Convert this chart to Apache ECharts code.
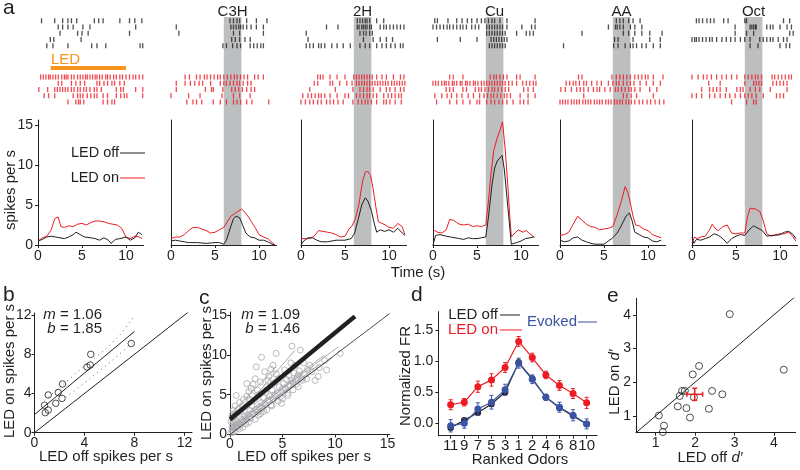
<!DOCTYPE html>
<html><head><meta charset="utf-8">
<script src="https://cdn.jsdelivr.net/npm/echarts@6/dist/echarts.min.js"></script>
<style>html,body{margin:0;padding:0;background:#fff}#c{width:800px;height:470px}</style>
</head><body><div id="c"></div>
<script>
// ---------------- DATA ----------------
const odorNames = ['', 'C3H', '2H', 'Cu', 'AA', 'Oct'];
const odorWindow = [6, 8];
const ledWindow = [1.45, 10];
const timeTicks = [0, 5, 10];
const rateTicks = [0, 5, 10, 15];

// spike rasters (s), 5 trials each
const offSpikes0 = [[0.4,1.9,2.8,3.4,3.8,4.4,6.4,6.9,7.4,9.3,10.4,11.0,11.8],[2.3,2.8,3.4,4.0,5.1,5.9,11.1],[2.5,4.5,5.0,5.7,10.4],[1.4,1.8,4.9],[1.0,1.7,3.4,6.1,6.7,7.7,11.6,11.9]];
const onSpikes0 = [[0.3,0.6,0.9,1.2,1.4,1.7,2.0,2.3,2.7,3.0,3.2,3.4,3.8,4.1,4.5,4.8,5.1,5.4,5.6,5.9,6.2,6.5,6.7,7.0,7.3,7.7,7.9,8.2,8.6,8.9,9.3,9.6,10.0,10.4,10.8,11.1,11.5,11.9],[2.3,2.7,3.8,4.3,4.8,5.3,6.7,7.0,7.5,7.9,8.4,8.7,9.3,9.8],[0.1,1.1,1.9,2.2,2.5,2.8,3.1,3.4,3.8,4.1,4.5,4.8,5.2,5.5,5.9,6.4,6.7,7.2,8.9,9.4,9.7,11.1,11.9],[0.7,1.2,1.9,4.0,4.5,4.8,5.1,5.6,6.0,6.4,6.7,7.4,7.9,8.9,9.4,9.8,10.1,11.9],[3.4,4.3,4.6,4.8,5.2,7.4,7.9,8.4,8.7]];
const offSpikes1 = [[6.7,7.1,7.5,7.8,8.6,9.7,10.9],[0.6,6.8,7.1,7.4,7.7,7.9,8.2,8.6,9.1,9.7,10.5],[0.9,7.1,7.8,10.5],[6.9,7.3,7.8,8.4,9.0],[5.9,6.3,7.0,7.5,7.9,9.0,9.4,9.8,10.2,10.5]];
const onSpikes1 = [[1.6,2.1,2.9,3.3,3.8,4.1,4.5,4.9,5.3,5.6,6.0,6.4,6.8,7.2,7.5,7.9,8.3,8.7,9.5,9.9,10.5],[0.6,1.6,2.2,2.7,3.2,3.6,4.5,5.6,6.0,6.3,6.7,7.1,7.5,7.8,8.2,8.7,9.1],[0.6,3.9,4.6,4.8,5.9,6.9,7.3,7.7,8.1,8.6,9.1,9.5],[0.0,2.0,3.3,5.8,7.1,7.8,9.0],[1.8,2.5,2.9,3.5,4.8,5.6,6.3,7.1,7.5,7.9,8.6,9.2,11.1]];
const offSpikes2 = [[6.4,6.7,7.0,7.3,7.5,7.8,8.6,9.4],[2.9,4.2,6.4,6.6,6.9,7.1,7.3,7.5,7.8,8.0,9.0,9.4,9.7,10.1,10.5,10.9,11.3,11.7],[0.6,6.7,7.1,7.4,7.8,8.1],[0.8,7.1,8.2,9.0,9.7,10.4],[0.6,1.0,1.4,2.0,2.3,2.7,3.5,4.1,4.8,5.6,6.7,7.3,7.8,8.6,9.2,9.7,10.2,10.7,11.3,11.6]];
const onSpikes2 = [[1.9,2.2,2.5,3.3,4.1,5.0,6.0,6.3,6.6,6.9,7.2,7.5,7.8,8.1,8.6,9.2,9.7,10.5,11.3,11.7],[1.5,1.9,3.3,3.6,4.4,5.2,5.8,6.3,6.6,6.9,7.2,7.5,7.8,8.1,8.4,8.7,9.0,9.3,9.6,9.9,10.3,10.6,10.9,11.2,11.5,11.8],[1.0,3.9,5.9,6.7,7.1,7.5,7.8,8.2,9.0,9.7,10.1,10.7,11.3,11.7],[0.2,0.8,1.2,1.6,2.0,2.3,2.7,3.3,4.1,5.0,5.4,6.3,6.7,7.1,7.5,7.8,8.2,8.6,9.4,9.9,10.3,10.7,11.1,11.4],[0.0,0.5,1.0,1.4,1.9,2.3,2.9,3.3,3.7,4.2,4.8,5.9,6.5,6.9,7.3,7.6,8.0,8.6,9.4,9.7,10.1,10.7,11.4]];
const offSpikes3 = [[0.2,0.5,1.7,2.7,3.3,3.9,4.4,5.0,5.5,5.9,6.3,6.7,7.0,7.6,8.4,11.6],[0.0,0.4,0.8,1.2,1.6,1.9,2.3,2.7,3.1,3.4,3.8,4.4,4.8,5.2,6.1,6.4,6.7,7.0,7.3,7.6,7.9,8.4,10.1,11.2,11.6],[6.1,6.4,6.7,7.0,7.3,7.6,7.9,8.2,9.5,10.6,11.0,11.4],[0.5,3.1,5.0,6.6,6.9,7.2,7.5,7.8,8.1,8.4],[6.4,6.7,7.0,7.3,7.6,7.9,8.2]];
const onSpikes3 = [[1.9,2.3,3.4,6.5,6.9,7.2,7.6,8.0,8.4,9.5,9.9,11.6],[0.0,0.3,0.6,1.0,1.3,1.5,1.8,2.2,2.4,2.7,3.1,3.3,3.7,3.9,4.2,4.6,4.8,5.1,5.5,5.8,6.1,6.4,6.7,7.0,7.3,7.6,7.9,8.2,8.6,9.0,9.5,10.2,10.6,11.0,11.4,11.7],[1.5,1.9,2.3,3.4,3.8,4.8,5.2,5.5,5.9,6.3,6.7,7.0,7.4,7.8,8.2,8.6,10.3,10.8,11.4],[0.2,1.0,1.6,2.1,2.7,3.3,4.0,4.6,5.3,5.8,6.2,6.6,6.9,7.3,7.7,8.1,8.4,8.8,9.9,10.8,11.6],[0.4,1.9,2.7,3.4,4.2,5.0,5.3,6.1,6.6,7.0,7.5,7.9,8.4,9.1,9.9,10.3,10.8]];
const offSpikes4 = [[6.4,6.8,7.2,7.8,8.3,9.1],[5.5,6.3,6.5,6.8,7.2,8.0,8.5,9.3],[2.5,7.2,7.8,8.5,9.3,10.2,11.6],[6.2,6.6,8.3,10.2,11.4],[0.4,6.1,6.6,7.4,8.0,8.3,8.7,9.3,9.8,10.6,11.4]];
const onSpikes4 = [[2.1,2.5,5.9,6.4,6.8,7.2,7.6,8.0,8.5,8.9,9.3,9.7,10.0,10.6,11.7],[0.7,1.1,1.5,1.8,2.2,2.7,3.0,3.6,4.2,4.7,5.5,6.0,6.4,6.7,7.2,7.6,8.0,8.4,9.1,9.8,10.6,11.4],[0.1,0.6,1.3,1.9,2.3,2.7,3.2,3.8,4.2,4.5,5.1,5.7,6.3,6.6,7.0,7.4,7.8,8.1,8.5,9.1,10.2,11.0],[2.7,7.2,7.6,8.1,8.7,10.6],[0.0,0.3,0.6,0.9,1.3,1.6,1.9,2.2,2.6,2.9,3.2,3.5,3.9,4.2,4.5,4.8,5.2,5.5,5.8,6.2,6.5,6.8,7.1,7.5,7.8,8.1,8.5,9.0,9.4,9.9,10.3,10.8,11.3,11.8]];
const offSpikes5 = [[0.5,0.8,1.2,1.7,2.1,2.5,3.6,4.1,6.0,6.2,10.4,11.1],[4.9,6.6,6.8,7.0,7.2,7.3,8.5,8.9,9.2,10.0,10.8,11.3],[4.9,6.2,7.0,11.1,11.5],[0.0,0.3,0.5,0.8,1.2,1.6,2.0,2.3,2.8,3.4,3.9,4.4,4.9,5.5,6.0,6.6,7.7,8.1,8.5,8.9,9.2,9.8,10.4,10.8],[6.6,7.5,10.0,10.7,11.1]];
const onSpikes5 = [[0.0,0.7,1.3,1.7,2.2,2.8,3.4,3.9,4.5,5.1,6.0,6.4,6.8,7.2,7.5,7.9,9.1,9.4,9.8,10.2,10.6,11.0,11.3],[1.9,3.2,6.0,7.0,7.3,7.6,7.9,9.2,9.6,10.0,10.4,10.8],[1.1,2.0,2.4,2.8,3.2,3.9,5.1,5.5,5.8,6.6,7.2,7.7,8.9,10.8],[0.0,0.5,1.1,2.0,2.6,3.2,3.8,4.3,4.9,5.5,6.0,6.4,6.8,7.3,8.1,9.6,10.0,10.4],[4.5,6.2,7.0,7.3]];

// firing rate curves [time s, spikes/s]
const psthOff0 = [[0,0.5],[0.5,0.7],[1,1.0],[1.5,1.1],[2,1.0],[2.5,0.9],[3,0.8],[3.5,1.0],[4,1.3],[4.3,1.6],[4.8,1.3],[5.3,1.0],[6,0.9],[6.5,0.8],[7,0.6],[7.5,0.9],[8,0.6],[8.3,0.2],[8.8,0.7],[9.3,0.8],[10,1.0],[10.5,0.6],[11,0.9],[11.4,1.6],[11.8,1.3]];
const psthOn0 = [[0,0.5],[0.5,0.9],[1,1.1],[1.5,1.9],[1.9,3.3],[2.3,3.5],[2.6,2.3],[3,2.2],[3.5,2.4],[4,2.3],[4.5,2.6],[5,2.7],[5.5,2.5],[6,2.8],[6.5,3.0],[7,3.0],[7.5,2.9],[8,2.7],[8.5,2.6],[9,2.5],[9.5,2.1],[10,1.0],[10.5,0.8],[11,1.1],[11.5,1.0],[11.8,0.8]];
const psthOff1 = [[0,0.5],[0.5,0.6],[1,0.5],[1.5,0.4],[2,0.3],[3,0.3],[4,0.2],[5,0.3],[5.5,0.3],[6,0.1],[6.3,0.6],[6.7,2.0],[7.1,3.3],[7.4,3.6],[7.8,3.4],[8.1,2.6],[8.5,1.5],[9,1.0],[9.5,0.9],[10,0.6],[10.5,0.6],[11,0.4],[11.5,0.1],[11.8,0]];
const psthOn1 = [[0,0.8],[0.5,1.0],[1,1.0],[1.5,1.3],[2,1.8],[2.5,2.2],[3,2.2],[3.5,2.0],[4,1.8],[4.5,1.5],[5,1.6],[5.5,1.9],[6,2.2],[6.4,2.9],[6.8,3.6],[7.2,3.9],[7.6,4.2],[8,4.5],[8.4,4.1],[8.8,3.5],[9.2,2.8],[9.6,2.1],[10,1.3],[10.5,1.0],[11,0.8],[11.5,0.3],[11.8,0]];
const psthOff2 = [[0,0],[0.3,0.5],[0.8,0.9],[1.3,0.9],[1.8,0.6],[2.3,0.4],[3,0.4],[4,0.6],[5,0.6],[5.7,0.8],[6.1,1.5],[6.5,3.2],[6.9,5.0],[7.3,5.9],[7.6,5.5],[8,4.3],[8.3,2.8],[8.6,1.6],[9,1.9],[9.5,1.7],[10,1.9],[10.5,1.6],[11,2.1],[11.5,1.5],[11.8,1.2]];
const psthOn2 = [[0,0.8],[0.5,0.8],[1,0.8],[1.5,1.1],[2,1.8],[2.5,1.7],[3,1.6],[3.5,1.5],[4,1.3],[4.5,1.0],[5,1.1],[5.4,1.9],[5.8,2.4],[6.2,3.3],[6.6,5.2],[7,8.0],[7.3,9.1],[7.6,9.2],[7.9,8.7],[8.2,7.0],[8.5,4.8],[8.8,2.9],[9.2,2.7],[9.6,2.5],[10,2.2],[10.5,2.1],[11,2.7],[11.5,2.3],[11.8,1.3]];
const psthOff3 = [[0,0],[0.3,1.2],[0.8,1.3],[1.5,1.1],[2,1.0],[2.5,0.9],[3,0.8],[3.5,0.7],[4,0.9],[4.5,0.8],[5,0.8],[5.5,0.9],[6,1.0],[6.3,3.5],[6.7,7.5],[7.0,9.6],[7.3,10.5],[7.85,11.2],[8.1,9.5],[8.4,6.0],[8.7,2.5],[8.9,0.1],[9.5,0.3],[10,0.5],[10.5,0.8],[11,0.9],[11.5,1.0]];
const psthOn3 = [[0,1.9],[0.5,1.6],[1,1.5],[1.5,1.9],[1.9,3.2],[2.3,3.1],[2.7,2.8],[3,2.6],[3.5,2.5],[4,2.6],[4.5,2.3],[5,2.4],[5.5,2.3],[6,2.5],[6.3,5.5],[6.6,9.0],[6.9,11.8],[7.3,13.4],[7.6,14.3],[7.9,15.4],[8.2,12.0],[8.5,7.5],[8.7,4.0],[8.9,1.0],[9.3,1.5],[9.7,1.9],[10.2,1.6],[10.6,1.8],[11,1.4],[11.5,1.0]];
const psthOff4 = [[0,0.6],[0.5,0.4],[1,0.5],[1.5,0.9],[2,1.0],[2.5,0.6],[3,0.4],[3.5,0.2],[4,0.1],[5,0.1],[5.5,0.5],[6,0.9],[6.5,1.5],[7,2.5],[7.5,3.6],[7.9,4.0],[8.2,3.0],[8.5,1.6],[9,1.3],[9.5,1.0],[10,0.9],[10.5,0.5],[11,0.4],[11.5,0.6]];
const psthOn4 = [[0,1.2],[0.5,1.3],[1,1.6],[1.5,2.6],[2,3.6],[2.5,3.1],[3,2.6],[3.5,2.3],[4,2.2],[4.5,1.9],[5,2.0],[5.5,2.1],[6,2.3],[6.5,3.8],[7,5.6],[7.4,7.3],[7.7,6.6],[8,5.2],[8.3,3.6],[8.6,2.5],[9,2.4],[9.5,2.0],[10,1.8],[10.5,1.3],[11,1.1],[11.5,0.9]];
const psthOff5 = [[0,1.0],[0.2,0.2],[0.5,0.7],[1,0.6],[1.5,0.8],[2,1.0],[2.5,1.4],[3,1.2],[3.5,0.8],[4,0.2],[4.5,0.8],[5,1.1],[5.5,1.3],[6,1.2],[6.5,1.9],[7,2.4],[7.5,2.1],[8,1.8],[8.5,1.1],[9,1.2],[9.5,1.2],[10,1.3],[10.5,1.6],[11,1.7],[11.5,1.3],[11.8,0.8]];
const psthOn5 = [[0,0.3],[0.3,1.0],[0.6,0.8],[1,1.0],[1.5,1.1],[2,1.9],[2.3,2.6],[2.7,2.0],[3,1.8],[3.5,2.3],[4,2.5],[4.5,1.5],[5,1.4],[5.5,1.5],[6,1.5],[6.3,3.5],[6.6,4.6],[7.2,4.5],[7.7,4.2],[8.1,3.0],[8.5,1.4],[9,1.1],[9.5,1.3],[10,1.4],[10.5,1.4],[11,1.6],[11.5,1.0],[11.8,0.5]];

// panel b
const bOff = [0.8,0.86,1.1,1.1,1.7,1.9,2.2,2.24,4.2,4.46,4.5,7.74];
const bOn  = [2.8,2.04,2.3,3.85,3.0,4.1,3.5,4.97,6.7,6.9,8.0,9.1];
const bFit = [[0,1.85],[8,10.33]];
const bUpper = [[0.8,3.3],[2,4.6],[3,5.7],[4,6.8],[5,7.8],[6,8.9],[7,10.2],[8,11.9]];
const bLower = [[2.5,3.6],[3.5,4.6],[4.5,5.6],[5.5,6.6],[6.5,7.7],[7.5,8.8],[8,9.3]];
const bTicks = [0,4,8,12];

// panel c
const cPoints = [[0.1,0.2],[0.2,0.5],[0.3,0.3],[0.4,0.8],[0.5,0.4],[0.6,1.1],[0.2,1.0],[0.3,1.5],[0.5,1.8],[0.7,0.9],[0.8,1.4],[0.9,0.7],[1.0,1.2],[1.1,1.9],[1.2,0.9],[1.3,1.6],[1.4,2.3],[0.4,2.2],[0.6,2.6],[0.3,3.0],[0.8,3.2],[0.5,3.6],[1.0,2.8],[1.2,3.5],[1.5,1.3],[0.1,1.6],[0.9,4.0],[0.6,4.9],[1.3,4.4],[0.2,2.5],
 [1.6,1.8],[1.7,2.5],[1.8,1.5],[1.9,3.0],[2.0,2.1],[2.1,3.6],[2.2,2.6],[2.3,4.2],[2.4,1.9],[2.5,3.2],[2.6,2.8],[2.7,5.0],[2.8,3.4],[2.9,2.6],[3.0,4.0],[1.6,4.8],[1.6,6.4],[1.8,5.4],[2.0,5.8],[2.2,6.3],[2.5,8.5],[2.4,7.0],[2.6,5.6],[2.9,6.6],[3.0,9.7],[2.7,2.4],[1.9,4.4],[2.1,4.9],
 [3.1,3.3],[3.2,4.6],[3.3,3.8],[3.4,5.3],[3.5,3.1],[3.5,6.0],[3.6,4.3],[3.7,7.3],[3.8,4.8],[3.9,3.7],[4.0,5.6],[4.1,8.7],[4.1,4.4],[4.2,6.5],[4.3,4.9],[4.4,10.2],[4.4,7.6],[4.5,5.2],[4.6,4.2],[4.7,6.0],[4.8,4.7],[4.9,3.9],[5.0,5.8],[3.3,7.9],[3.6,6.8],[3.9,8.2],[4.6,7.0],[3.2,2.9],[4.0,3.6],
 [5.1,6.4],[5.2,8.1],[5.3,5.7],[5.4,6.9],[5.5,5.2],[5.6,7.4],[5.7,6.1],[5.8,6.8],[5.9,11.1],[6.0,6.5],[6.1,7.7],[6.2,8.7],[6.3,6.3],[6.4,7.2],[6.5,6.0],[6.6,8.0],[6.7,10.6],[6.8,7.0],[6.9,6.8],[5.0,4.5],[5.5,4.9],[6.0,5.6],[6.5,7.5],[5.8,9.0],
 [7.1,7.6],[7.3,7.0],[7.6,8.7],[7.8,7.9],[8.1,6.8],[8.4,7.3],[8.5,8.4],[9.2,8.1],[9.0,9.3],[10.5,10.2],[7.4,8.2],[7.0,9.0]];
const cCellFits = [[[0,1.2],[6.2,10.6]],[[0,0.8],[10.3,11.0]],[[0,0.5],[9.7,9.6]],[[0,1.5],[7.0,9.2]],[[0,0.3],[8.5,8.8]],[[0,2.5],[4.4,8.5]],[[0,0.6],[6.8,7.6]],[[0,1.0],[9.0,10.0]]];
const cFit = [[0,1.9],[11.9,14.85]];
const cTicks = [0,5,10,15];

// panel d
const odorRank = ['11','9','7','5','3','1','2','4','6','8','10'];
const dOff     = [-0.07,0.05,0.17,0.31,0.50,0.98,0.72,0.42,0.25,0.12,-0.01];
const dOn      = [0.30,0.34,0.59,0.70,0.90,1.32,1.06,0.78,0.61,0.48,0.33];
const dEvoked  = [-0.04,0.00,0.23,0.34,0.54,0.97,0.71,0.42,0.26,0.13,-0.01];
const dOnErr   = [0.08,0.06,0.09,0.10,0.08,0.08,0.07,0.06,0.08,0.08,0.09];
const dEvErr   = [0.10,0.08,0.10,0.11,0.09,0.08,0.07,0.05,0.08,0.09,0.08];
const dOffErr  = [0.03,0.03,0.03,0.04,0.03,0.04,0.04,0.03,0.04,0.03,0.03];
const dYTicks  = [0,0.5,1.0,1.5];

// panel e
const eOff = [2.88,4.25,2.1,1.94,1.67,1.74,1.61,2.43,2.69,1.97,1.56,1.78,2.35,1.87,1.08,1.21,1.18];
const eOn  = [4.02,2.37,2.48,2.23,1.74,1.74,1.59,1.74,1.64,1.55,1.28,1.23,1.21,0.95,1.01,0.71,0.52];
const eMean = [[1.99,1.64,0.2,0.18]];
const eTicks = [1,2,3,4];

// ---------------- STYLE / LAYOUT ----------------
const FONT = '"Liberation Sans", Arial, Helvetica, sans-serif';
const INK = '#231f20', RED = '#ed1c24', BLUE = '#3a53a4', BAND = '#bcbec0', CGRAY = '#a7a9ac', ORANGE = '#f7941d';
const colX = [38,171,301,433,560,692];
const colW = 105.6;
const offSpikes = [offSpikes0,offSpikes1,offSpikes2,offSpikes3,offSpikes4,offSpikes5];
const onSpikes = [onSpikes0,onSpikes1,onSpikes2,onSpikes3,onSpikes4,onSpikes5];
const psthOff = [psthOff0,psthOff1,psthOff2,psthOff3,psthOff4,psthOff5];
const psthOn = [psthOn0,psthOn1,psthOn2,psthOn3,psthOn4,psthOn5];

const grids=[], xAxes=[], yAxes=[], series=[];
function addGrid(g, xa, ya){ grids.push(g); const i=grids.length-1; xa.gridIndex=i; ya.gridIndex=i; xAxes.push(xa); yAxes.push(ya); return i; }
function axis(min, max, ticks, o){
  o = o || {};
  return {type:'value', min, max,
    axisLine:{show:o.line!==false, onZero:false, lineStyle:{color:INK, width:1}},
    axisTick:{show:!!ticks, length:3, customValues:ticks||undefined, lineStyle:{color:INK, width:1}},
    axisLabel:{show:!!ticks, customValues:ticks||undefined, color:INK, fontFamily:FONT, fontSize:o.fs||14, margin:o.margin==null?4:o.margin, formatter:o.fmt},
    splitLine:{show:false}};
}
function hidden(min,max,inv){ return {type:'value', min, max, inverse:!!inv, show:false, splitLine:{show:false}}; }
function band(gi){ return {type:'line', xAxisIndex:gi, yAxisIndex:gi, data:[], z:1, silent:true,
  markArea:{silent:true, itemStyle:{color:BAND}, label:{show:false}, data:[[{xAxis:odorWindow[0]},{xAxis:odorWindow[1]}]]}}; }

for (let c=0;c<6;c++){
  // raster
  const rg = addGrid({left:colX[c], top:17, width:colW, height:103}, hidden(0,12), hidden(-0.6,15.88,true));
  if (c>0) series.push(band(rg));
  const offPts=[], onPts=[];
  offSpikes[c].forEach((row,r)=>row.forEach(t=>offPts.push([t,r])));
  onSpikes[c].forEach((row,r)=>row.forEach(t=>onPts.push([t,r+9])));
  series.push({type:'scatter', xAxisIndex:rg, yAxisIndex:rg, data:offPts, symbol:'rect', symbolSize:[1.3,5], itemStyle:{color:INK}, silent:true, z:3});
  series.push({type:'scatter', xAxisIndex:rg, yAxisIndex:rg, data:onPts, symbol:'rect', symbolSize:[1.3,5.2], itemStyle:{color:RED}, silent:true, z:3});
  if (c===0){
    series.push({type:'line', xAxisIndex:rg, yAxisIndex:rg, data:[[ledWindow[0],7.56],[ledWindow[1],7.56]], symbol:'none', lineStyle:{color:ORANGE, width:4}, silent:true, z:3});
  }
  // rate plot
  const lg = addGrid({left:colX[c], top:120, width:colW, height:125},
    axis(0,12,timeTicks),
    c===0 ? axis(0,15.625,rateTicks,{margin:5}) : axis(0,15.625,null));
  if (c>0) series.push(band(lg));
  series.push({type:'line', xAxisIndex:lg, yAxisIndex:lg, data:psthOn[c], showSymbol:false, symbol:'none', lineStyle:{color:RED, width:1}, silent:true, z:3});
  series.push({type:'line', xAxisIndex:lg, yAxisIndex:lg, data:psthOff[c], showSymbol:false, symbol:'none', lineStyle:{color:INK, width:1}, silent:true, z:4});
}

function lineS(gi, data, color, width, type, z){ return {type:'line', xAxisIndex:gi, yAxisIndex:gi, data, symbol:'none', showSymbol:false, lineStyle:{color, width, type:type||'solid'}, silent:true, z:z||3}; }
function hollow(gi, data, color, size){ return {type:'scatter', xAxisIndex:gi, yAxisIndex:gi, data, symbol:'circle', symbolSize:size, itemStyle:{color:'rgba(0,0,0,0)', borderColor:color, borderWidth:1}, silent:true, z:4}; }

// panel b
const gb = addGrid({left:34.5, top:313.1, width:157.5, height:119.6}, axis(0,12.6,bTicks,{margin:3}), axis(0,12.2,bTicks,{margin:3}));
series.push(lineS(gb, [[0,0],[12.6,12.6]], INK, 1));
series.push(lineS(gb, bFit, INK, 1));
series.push(lineS(gb, bUpper, '#666', 1, [1,4]));
series.push(lineS(gb, bLower, '#666', 1, [1,4]));
series.push(hollow(gb, bOff.map((x,i)=>[x,bOn[i]]), INK, 6.5));

// panel c
const gc = addGrid({left:230, top:312, width:159.6, height:122.4}, axis(0,15.2,cTicks,{margin:3}), axis(0,15.4,cTicks,{margin:3}));
series.push(hollow(gc, cPoints, CGRAY, 6));
cCellFits.forEach(f=>series.push(lineS(gc, f, CGRAY, 1, 'solid', 5)));
series.push(lineS(gc, [[0,0],[15.2,15.2]], INK, 0.8, 'solid', 6));
series.push(lineS(gc, cFit, INK, 4.5, 'solid', 7));

// panel d
function vErr(color){ return function(p, api){
  const x=api.value(0), y=api.value(1), e=api.value(2);
  const a=api.coord([x,y+e]), b=api.coord([x,y-e]); const st={stroke:color, lineWidth:1}; const k=2;
  return {type:'group', children:[
    {type:'line', shape:{x1:a[0],y1:a[1],x2:b[0],y2:b[1]}, style:st},
    {type:'line', shape:{x1:a[0]-k,y1:a[1],x2:a[0]+k,y2:a[1]}, style:st},
    {type:'line', shape:{x1:b[0]-k,y1:b[1],x2:b[0]+k,y2:b[1]}, style:st}]};
};}
const gd = addGrid({left:438.3, top:311.7, width:158.7, height:124},
  axis(-0.91,10.76,odorRank.map((s,i)=>i),{fs:15,margin:3,fmt:v=>odorRank[Math.round(v)]}),
  axis(-0.2,1.8,dYTicks,{margin:5,fmt:v=>v.toFixed(1)}));
const idx = odorRank.map((s,i)=>i);
series.push({type:'custom', xAxisIndex:gd, yAxisIndex:gd, renderItem:vErr(RED), data:idx.map(i=>[i,dOn[i],dOnErr[i]]), encode:{x:0,y:1}, silent:true, z:3});
series.push(Object.assign(lineS(gd, idx.map(i=>[i,dOn[i]]), RED, 1.2), {symbol:'circle', showSymbol:true, symbolSize:7, itemStyle:{color:RED}}));
series.push({type:'custom', xAxisIndex:gd, yAxisIndex:gd, renderItem:vErr(INK), data:idx.map(i=>[i,dOff[i],dOffErr[i]]), encode:{x:0,y:1}, silent:true, z:3});
series.push(Object.assign(lineS(gd, idx.map(i=>[i,dOff[i]]), INK, 1.2, 'solid', 4), {symbol:'circle', showSymbol:true, symbolSize:6.5, itemStyle:{color:INK}}));
series.push({type:'custom', xAxisIndex:gd, yAxisIndex:gd, renderItem:vErr(BLUE), data:idx.map(i=>[i,dEvoked[i],dEvErr[i]]), encode:{x:0,y:1}, silent:true, z:5});
series.push(Object.assign(lineS(gd, idx.map(i=>[i,dEvoked[i]]), BLUE, 1.2, 'solid', 5), {symbol:'circle', showSymbol:true, symbolSize:7, itemStyle:{color:BLUE}}));

// panel e
const ge = addGrid({left:636, top:298.3, width:159.6, height:134.4}, axis(0.5,4.55,eTicks,{margin:3}), axis(0.5,4.49,eTicks,{margin:5}));
series.push(lineS(ge, [[0.5,0.5],[4.55,4.55]], INK, 1));
series.push(hollow(ge, eOff.map((x,i)=>[x,eOn[i]]), INK, 7));
series.push({type:'custom', xAxisIndex:ge, yAxisIndex:ge, encode:{x:0,y:1}, silent:true, z:6, data:eMean,
  renderItem:function(p, api){
    const x=api.value(0), y=api.value(1), ex=api.value(2), ey=api.value(3);
    const l=api.coord([x-ex,y]), r=api.coord([x+ex,y]), t=api.coord([x,y+ey]), b=api.coord([x,y-ey]);
    const st={stroke:RED, lineWidth:1.5}; const k=2.5;
    return {type:'group', children:[
      {type:'line', shape:{x1:l[0],y1:l[1],x2:r[0],y2:r[1]}, style:st},
      {type:'line', shape:{x1:t[0],y1:t[1],x2:b[0],y2:b[1]}, style:st},
      {type:'line', shape:{x1:l[0],y1:l[1]-k,x2:l[0],y2:l[1]+k}, style:st},
      {type:'line', shape:{x1:r[0],y1:r[1]-k,x2:r[0],y2:r[1]+k}, style:st},
      {type:'line', shape:{x1:t[0]-k,y1:t[1],x2:t[0]+k,y2:t[1]}, style:st},
      {type:'line', shape:{x1:b[0]-k,y1:b[1],x2:b[0]+k,y2:b[1]}, style:st}]};
  }});

// ---------------- TEXT ----------------
function txt(x,y,text,o){ o=o||{}; return {type:'text', x, y, rotation:o.rot||0, silent:true, z:50,
  style:{text, fill:o.color||INK, fontSize:o.size||15, fontFamily:FONT, fontStyle:o.italic?'italic':'normal',
    align:o.align||'center', verticalAlign:'middle', rich:o.rich}}; }
function seg(x1,y1,x2,y2,color){ return {type:'line', silent:true, z:50, shape:{x1,y1,x2,y2}, style:{stroke:color, lineWidth:1}}; }
const V = Math.PI/2;
const richBase = (size)=>({n:{fontSize:size, fontFamily:FONT, fill:INK}, i:{fontSize:size, fontFamily:FONT, fontStyle:'italic', fill:INK}});
const graphics = [
  txt(3,8,'a',{size:21,align:'left'}),
  txt(3,295,'b',{size:21,align:'left'}),
  txt(199,298,'c',{size:21,align:'left'}),
  txt(411,295,'d',{size:21,align:'left'}),
  txt(607,296,'e',{size:21,align:'left'}),
  txt(51,60,'LED',{color:ORANGE,size:15,align:'left'}),
  txt(119,153,'LED off',{size:14.5,align:'right'}), seg(120,153,145,153,INK),
  txt(119,178,'LED on',{size:14.5,align:'right'}), seg(120,178,145,178,RED),
  txt(11,190,'spikes per s',{rot:V,size:15}),
  txt(418,273,'Time (s)',{size:15}),
  txt(102,315,'{i|m}{n| = 1.06}',{rich:richBase(15),align:'right'}),
  txt(102,329,'{i|b}{n| = 1.85}',{rich:richBase(15),align:'right'}),
  txt(300,315,'{i|m}{n| = 1.09}',{rich:richBase(15),align:'right'}),
  txt(300,329,'{i|b}{n| = 1.46}',{rich:richBase(15),align:'right'}),
  txt(10,371,'LED on spikes per s',{rot:V,size:15}),
  txt(106,457,'LED off spikes per s',{size:15}),
  txt(207,373,'LED on spikes per s',{rot:V,size:15}),
  txt(304,457,'LED off spikes per s',{size:15}),
  txt(406,376,'Normalized FR',{rot:V,size:15}),
  txt(520,460,'Ranked Odors',{size:15}),
  txt(498,315,'LED off',{size:15,align:'right'}), seg(500,315,520,315,INK),
  txt(498,330,'LED on',{size:15,align:'right',color:RED}), seg(500,330,522,330,RED),
  txt(577,322,'Evoked',{size:15,align:'right',color:BLUE}), seg(578,322,597,322,BLUE),
  txt(615,382,'{n|LED on }{i|d′}',{rot:V,rich:richBase(15)}),
  txt(710,458,'{n|LED off }{i|d′}',{rich:richBase(15)})
];
for (let c=1;c<6;c++) graphics.push(txt(colX[c]+7*8.8, 12, odorNames[c], {size:15}));

const chart = echarts.init(document.getElementById('c'), null, {renderer:'canvas'});
chart.setOption({animation:false, backgroundColor:'#fff', grid:grids, xAxis:xAxes, yAxis:yAxes, series, graphic:graphics});
</script></body></html>
